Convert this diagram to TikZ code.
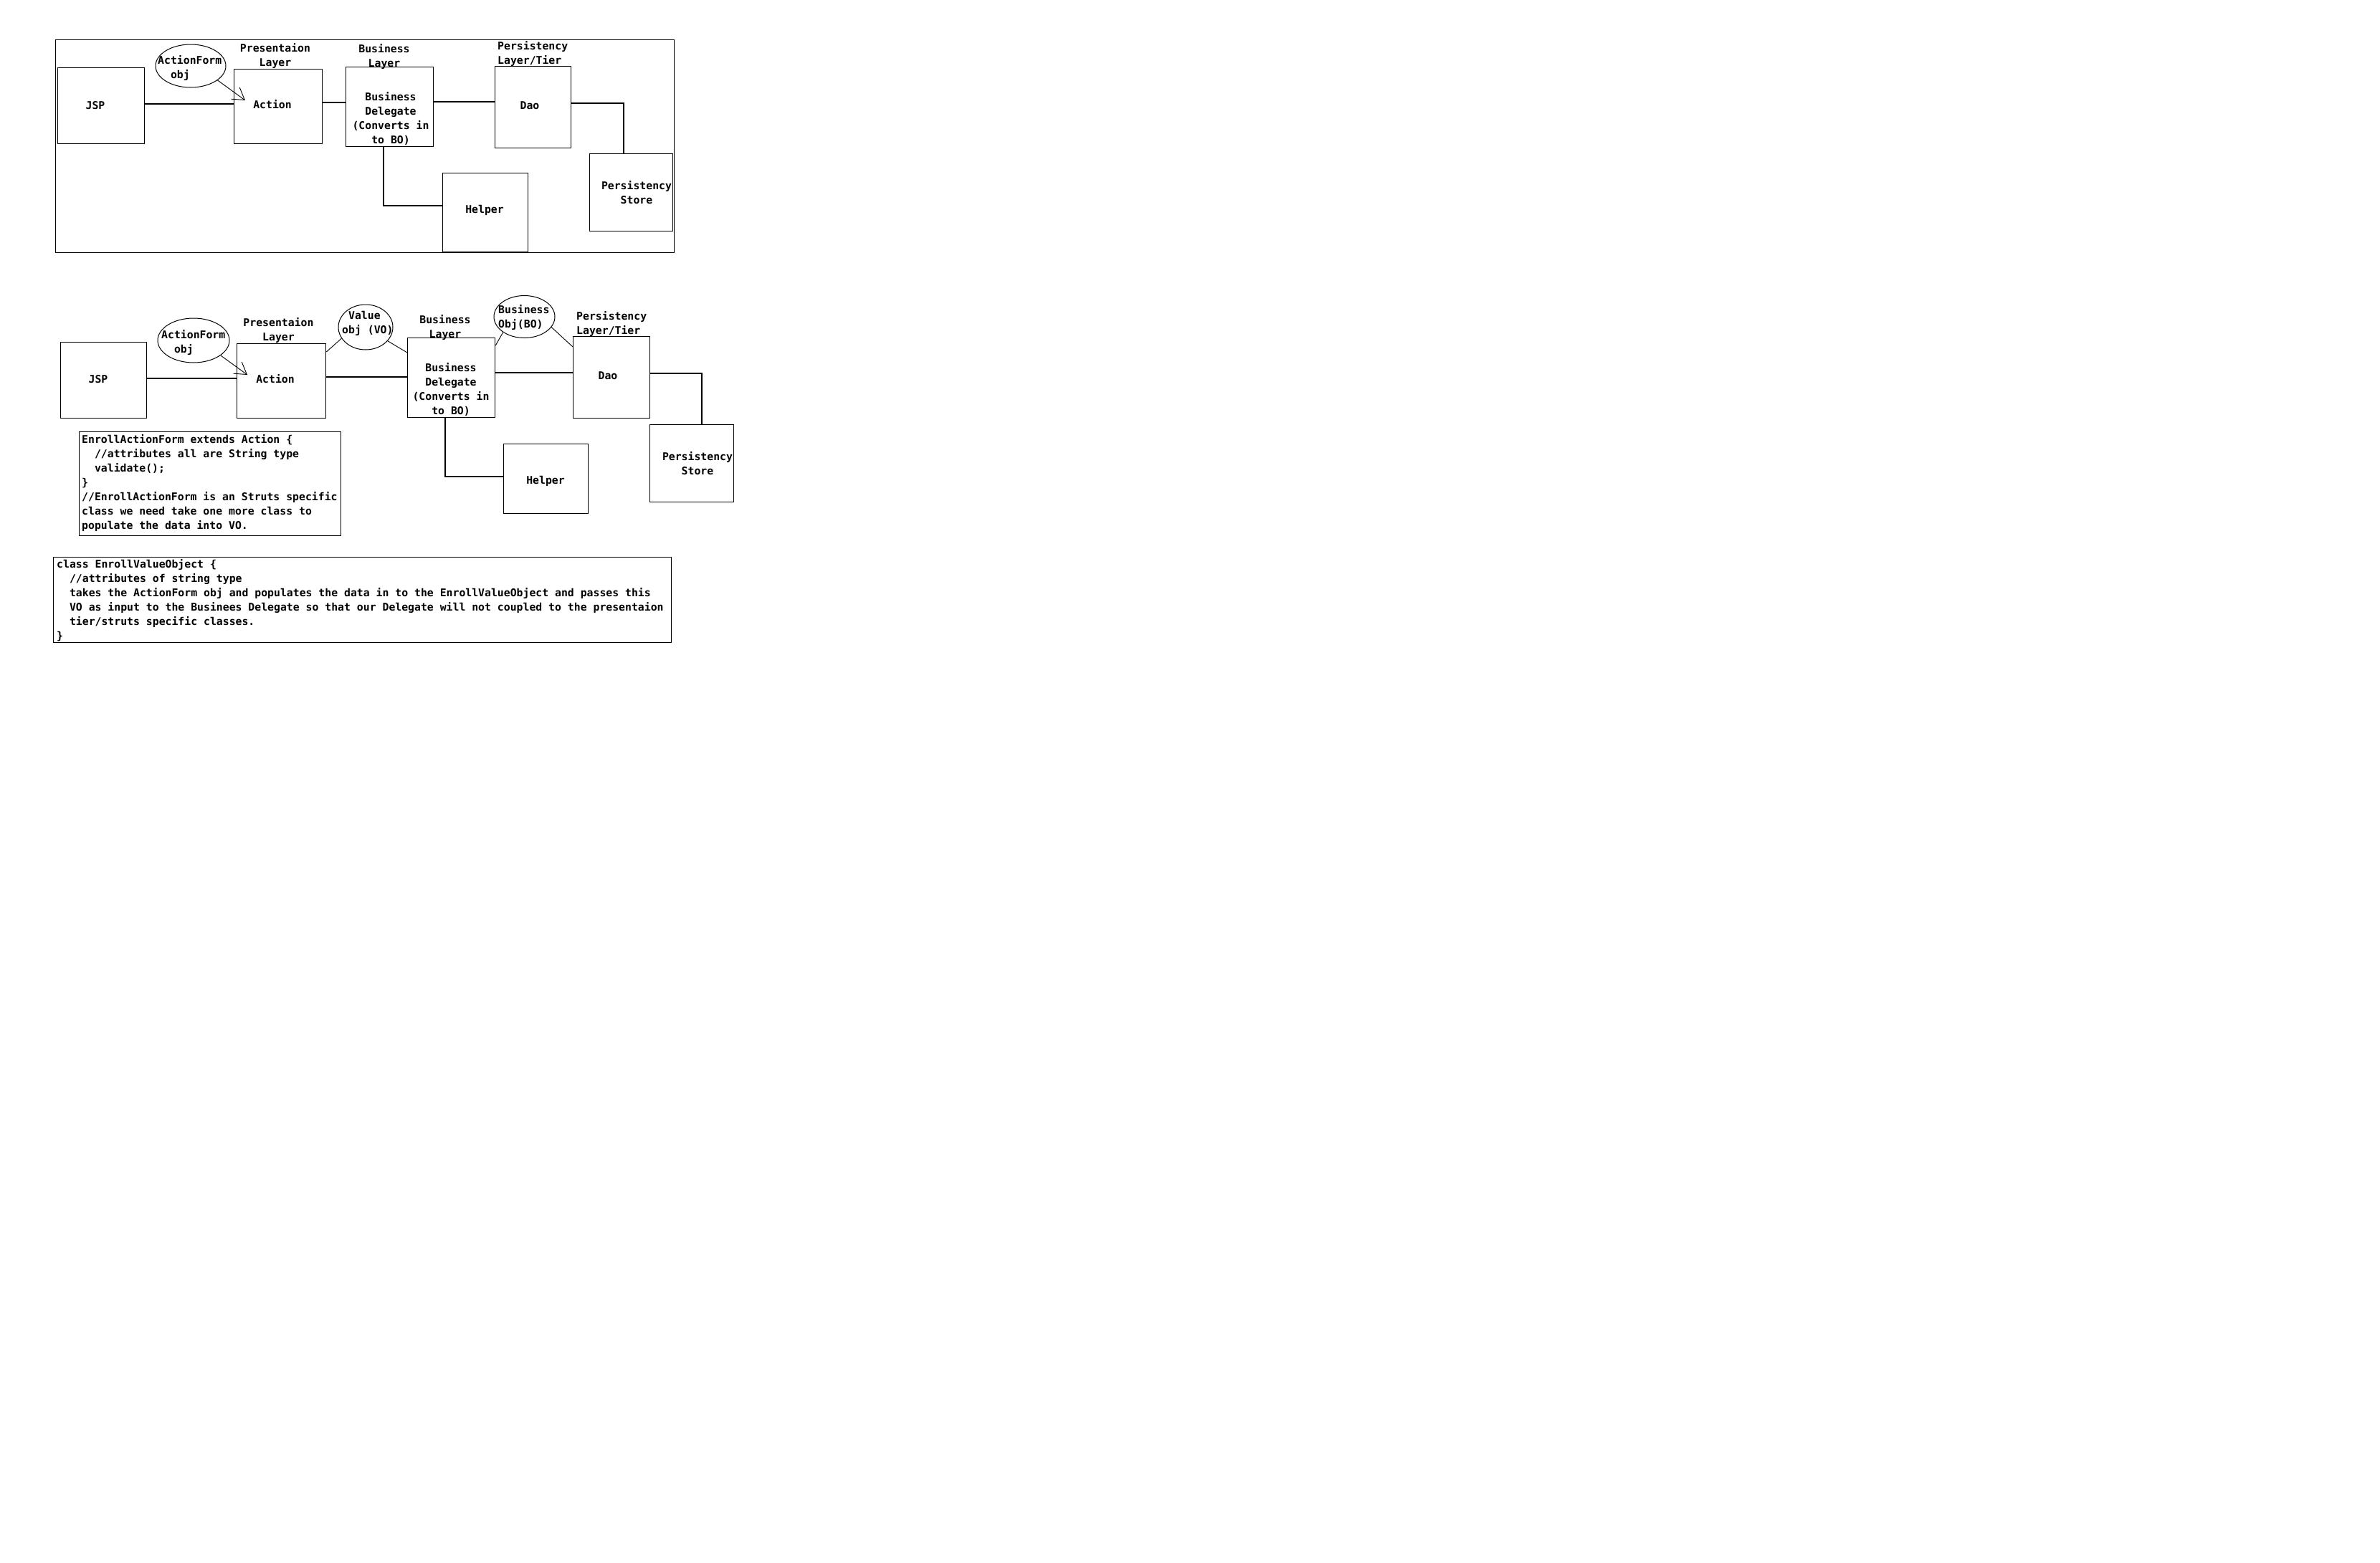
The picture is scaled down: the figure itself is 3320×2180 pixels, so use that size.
\documentclass[tikz,border=0pt]{standalone}
\usepackage{fontspec}
\newfontfamily\cons{DejaVu Sans Mono}
\usetikzlibrary{shapes.geometric,arrows.meta}
\tikzset{
 box/.style={draw, line width=1.3pt, rectangle, inner sep=0pt, anchor=north west},
 oval/.style={draw, line width=1pt, ellipse, inner sep=0pt},
 txt/.style={inner sep=0pt, font=\cons\bfseries\fontsize{14.8}{20}\selectfont, align=center},
 ltxt/.style={txt, align=left},
 wire/.style={line width=1.3pt},
 thinwire/.style={line width=0.9pt},
 arr/.style={line width=0.9pt, -{Straight Barb[length=16pt,width=20pt]}},
}
\begin{document}
\begin{tikzpicture}[x=1pt,y=-1pt]
\path[use as bounding box] (0,0) rectangle (3320,2180);
% ---------- diagram 1 ----------
\node[box, minimum width=863pt, minimum height=297pt] (frame1) at (77,55) {};
\node[box, minimum width=121pt, minimum height=106pt] (jsp1) at (80,94) {};
\node[box, minimum width=123pt, minimum height=104pt] (act1) at (326,96) {};
\node[box, minimum width=122pt, minimum height=111pt] (bd1) at (482,93) {};
\node[box, minimum width=106pt, minimum height=114pt] (dao1) at (690,92) {};
\node[box, minimum width=116pt, minimum height=108pt] (ps1) at (822,214) {};
\node[box, minimum width=119pt, minimum height=110pt] (helper1) at (617,241) {};
\node[oval, minimum width=98pt, minimum height=60pt] (af1) at (266,92) {};

\node[txt] (jsp1t) at (133,147) {JSP};
\node[txt] (act1t) at (380,146) {Action};
\node[txt] (bd1t) at (545,165.5) {Business\\Delegate\\(Converts in\\to BO)};
\node[txt] (dao1t) at (739,147) {Dao};
\node[txt] (ps1t) at (888,269) {Persistency\\Store};
\node[txt] (helper1t) at (676,293) {Helper};
\node[ltxt, anchor=west] (af1t) at (220,95) {ActionForm\\\hphantom{xx}obj};
\node[txt] (pl1) at (384,78) {Presentaion\\Layer};
\node[txt] (bl1) at (536,79) {Business\\Layer};
\node[ltxt, anchor=west] (pt1) at (694,75) {Persistency\\Layer/Tier};

\draw[wire] (jsp1.east |- 0,145) -- (act1.west |- 0,145);
\draw[wire] (act1.east |- 0,143) -- (bd1.west |- 0,143);
\draw[wire] (bd1.east |- 0,142) -- (dao1.west |- 0,142);
\draw[wire] (dao1.east |- 0,144) -| (ps1.north -| 870,0);
\draw[wire] (bd1.south -| 535,0) |- (helper1.west |- 0,287);
\coordinate (tip1) at (342,140);
\draw[arr] (af1.-28) -- (tip1);

% ---------- diagram 2 ----------
\node[box, minimum width=120pt, minimum height=106pt] (jsp2) at (84,477) {};
\node[box, minimum width=124pt, minimum height=104pt] (act2) at (330,479) {};
\node[box, minimum width=122pt, minimum height=111pt] (bd2) at (568,471) {};
\node[box, minimum width=107pt, minimum height=114pt] (dao2) at (799,469) {};
\node[box, minimum width=117pt, minimum height=108pt] (ps2) at (906,592) {};
\node[box, minimum width=118pt, minimum height=97pt] (helper2) at (702,619) {};
\node[oval, minimum width=100pt, minimum height=62pt] (af2) at (270,475) {};
\node[oval, minimum width=76pt, minimum height=63pt] (vo) at (510,456.5) {};
\node[oval, minimum width=85pt, minimum height=59pt] (bo) at (731.5,442) {};

\node[txt] (jsp2t) at (137,529) {JSP};
\node[txt] (act2t) at (384,529) {Action};
\node[txt] (bd2t) at (629,543.5) {Business\\Delegate\\(Converts in\\to BO)};
\node[txt] (dao2t) at (848,524) {Dao};
\node[txt] (ps2t) at (973,647) {Persistency\\Store};
\node[txt] (helper2t) at (761,671) {Helper};
\node[ltxt, anchor=west] (af2t) at (225,478) {ActionForm\\\hphantom{xx}obj};
\node[ltxt, anchor=west] (vot) at (477,451) {\hphantom{x}Value\\obj (VO)};
\node[ltxt, anchor=west] (bot) at (695,443) {Business\\Obj(BO)};
\node[txt] (pl2) at (388.5,461) {Presentaion\\Layer};
\node[txt] (bl2) at (621,457) {Business\\Layer};
\node[ltxt, anchor=west] (pt2) at (804,452) {Persistency\\Layer/Tier};

\draw[wire] (jsp2.east |- 0,528) -- (act2.west |- 0,528);
\draw[wire] (act2.east |- 0,526) -- (bd2.west |- 0,526);
\draw[wire] (bd2.east |- 0,520) -- (dao2.west |- 0,520);
\draw[wire] (dao2.east |- 0,521) -| (ps2.north -| 979,0);
\draw[wire] (bd2.south -| 621,0) |- (helper2.west |- 0,665);
\draw[thinwire] (act2.east |- 0,491) -- (vo.-155);
\draw[thinwire] (vo.-32) -- (bd2.west |- 0,492);
\draw[thinwire] (bd2.east |- 0,482) -- (bo.216.7);
\draw[thinwire] (bo.-21.8) -- (dao2.west |- 0,484);
\coordinate (tip2) at (345,523);
\draw[arr] (af2.-29) -- (tip2);

% ---------- code boxes ----------
\node[box, minimum width=365pt, minimum height=145pt] (cb1) at (110,602) {};
\node[ltxt, anchor=north west] (cb1t) at (114,606) {EnrollActionForm extends Action \{\\
\hphantom{xx}//attributes all are String type\\
\hphantom{xx}validate();\\
\}\\
//EnrollActionForm is an Struts specific\\
class we need take one more class to\\
populate the data into VO.};
\node[box, minimum width=862pt, minimum height=119pt] (cb2) at (74,777) {};
\node[ltxt, anchor=north west] (cb2t) at (79,780) {class EnrollValueObject \{\\
\hphantom{xx}//attributes of string type\\
\hphantom{xx}takes the ActionForm obj and populates the data in to the EnrollValueObject and passes this\\
\hphantom{xx}VO as input to the Businees Delegate so that our Delegate will not coupled to the presentaion\\
\hphantom{xx}tier/struts specific classes.\\
\}};
\end{tikzpicture}
\end{document}
